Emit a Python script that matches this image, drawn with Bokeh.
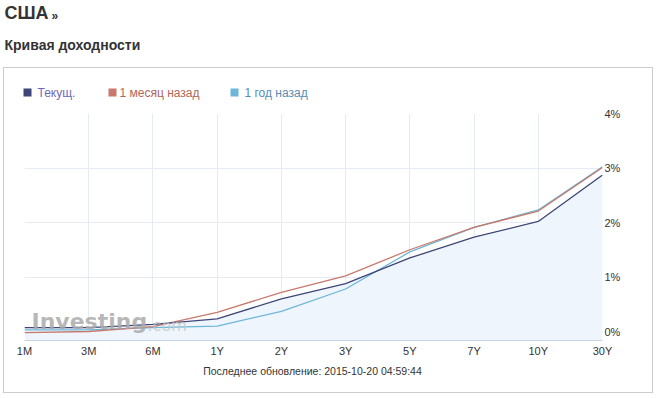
from bokeh.plotting import figure
from bokeh.models import Range1d, FixedTicker, Label, Column
from bokeh.embed import file_html
from bokeh.resources import INLINE

# ---- data ----
tenors = ["1M", "3M", "6M", "1Y", "2Y", "3Y", "5Y", "7Y", "10Y", "30Y"]
current = [0.07, 0.07, 0.13, 0.23, 0.60, 0.88, 1.35, 1.73, 2.02, 2.87]
month_ago = [-0.02, 0.00, 0.09, 0.35, 0.72, 1.02, 1.50, 1.91, 2.21, 3.01]
year_ago = [0.03, 0.03, 0.07, 0.10, 0.37, 0.78, 1.46, 1.91, 2.23, 3.02]
y_ticks = [0, 1, 2, 3, 4]
y_tick_labels = ["0%", "1%", "2%", "3%", "4%"]
series_names = ["Текущ.", "1 месяц назад", "1 год назад"]
series_colors = ["#3d4677", "#c8796b", "#6db5d9"]
legend_text_colors = ["#6f68b8", "#b0665a", "#5a8db2"]
title_text = "США"
subtitle_text = "Кривая доходности"
footer_text = "Последнее обновление: 2015-10-20 04:59:44"

FONT = "Liberation Sans"
PAGE_W = 657
BOX_X = 4          # inner left of bordered box (page)
BOX_W = 648        # inner width of bordered box


def text_fig(w, h):
    f = figure(width=w, height=h, output_backend="svg", toolbar_location=None,
               x_range=Range1d(0, w), y_range=Range1d(h, 0),
               x_axis_type=None, y_axis_type=None, min_border=0)
    f.outline_line_color = None
    f.grid.visible = False
    f.background_fill_color = "white"
    f.border_fill_color = "white"
    return f


# ---- header ----
header = text_fig(PAGE_W, 67)
header.add_layout(Label(x=4, y=12.5, text=title_text, text_font=FONT, text_font_style="bold",
                        text_font_size="18px", text_color="#333333", text_baseline="middle"))
header.add_layout(Label(x=51, y=15, text="»", text_font=FONT, text_font_style="bold",
                        text_font_size="12px", text_color="#333333", text_baseline="middle"))
header.add_layout(Label(x=4, y=44.5, text=subtitle_text, text_font=FONT, text_font_style="bold",
                        text_font_size="14px", text_color="#333333", text_baseline="middle"))

# ---- legend ----
LEG_TOP = 68
MAIN_TOP = 100
leg = text_fig(BOX_W, MAIN_TOP - LEG_TOP)
sq_x = [23, 108, 230]
txt_x = [37, 119, 244]
leg.quad(left=[sx - BOX_X for sx in sq_x], right=[sx - BOX_X + 8 for sx in sq_x],
         top=[88 - LEG_TOP] * 3, bottom=[96 - LEG_TOP] * 3,
         fill_color=series_colors, line_color=None)
for name, tc, tx in zip(series_names, legend_text_colors, txt_x):
    leg.add_layout(Label(x=tx - BOX_X, y=92 - LEG_TOP, text=name, text_font=FONT,
                         text_font_size="12px", text_color=tc, text_baseline="middle"))

# ---- main chart ----
FL, FR, FT, FB = 24, 602, 113, 340
MAIN_BOTTOM = 360
Y0, Y1 = -0.165, 4.0
xs = list(range(len(tenors)))

p = figure(width=BOX_W, height=MAIN_BOTTOM - MAIN_TOP, output_backend="svg",
           toolbar_location=None,
           x_range=Range1d(0, len(tenors) - 1), y_range=Range1d(Y0, Y1),
           y_axis_location="right",
           min_border_left=FL - BOX_X, min_border_right=BOX_W - (FR - BOX_X),
           min_border_top=FT - MAIN_TOP, min_border_bottom=MAIN_BOTTOM - FB)
p.outline_line_color = None
p.background_fill_color = "white"
p.border_fill_color = "white"


def dx(page_x):
    return (page_x - FL) / ((FR - FL) / (len(tenors) - 1))


def dy(page_y):
    return Y1 - (page_y - FT) * (Y1 - Y0) / (FB - FT)


for ax in (p.xaxis, p.yaxis):
    ax.major_tick_line_color = None
    ax.minor_tick_line_color = None
    ax.major_tick_out = 0
    ax.major_tick_in = 0
    ax.minor_tick_out = 0
    ax.minor_tick_in = 0
    ax.major_label_text_font = FONT
    ax.major_label_text_font_size = "11px"
    ax.major_label_text_color = "#333333"

p.xaxis.ticker = FixedTicker(ticks=xs)
p.xaxis.major_label_overrides = {i: t for i, t in enumerate(tenors)}
p.xaxis.axis_line_color = "#c6d4e4"
p.xaxis.major_label_standoff = 4

p.yaxis.ticker = FixedTicker(ticks=y_ticks)
p.yaxis.major_label_overrides = {t: l for t, l in zip(y_ticks, y_tick_labels)}
p.yaxis.axis_line_color = None
p.yaxis.major_label_standoff = 2

p.xgrid.ticker = FixedTicker(ticks=xs)
p.xgrid.grid_line_color = "#e4ebf5"
p.ygrid.ticker = FixedTicker(ticks=y_ticks)
p.ygrid.grid_line_color = "#e4ebf5"

p.varea(x=xs, y1=[Y0] * len(xs), y2=current, fill_color="#eef5fd", fill_alpha=1)
p.line(xs, year_ago, line_color=series_colors[2], line_width=1.3)
p.line(xs, month_ago, line_color=series_colors[1], line_width=1.3)
p.line(xs, current, line_color=series_colors[0], line_width=1.3)

# watermark
p.add_layout(Label(x=dx(31), y=dy(321), text="Investing", text_font="DejaVu Sans",
                   text_font_style="bold", text_font_size="22px", text_color="#aaaaaa",
                   text_alpha=0.85, text_baseline="middle"))
p.add_layout(Label(x=dx(147), y=dy(325), text=".com", text_font="DejaVu Sans",
                   text_font_size="16px", text_color="#c8c8c8", text_alpha=0.85,
                   text_baseline="middle"))

# ---- footer ----
footer = text_fig(BOX_W, 392 - MAIN_BOTTOM)
footer.add_layout(Label(x=312 - BOX_X, y=370 - MAIN_BOTTOM, text=footer_text, text_font=FONT,
                        text_font_size="10.5px", text_color="#333333",
                        text_align="center", text_baseline="middle"))

box = Column(children=[Column(children=[leg]), Column(children=[p]), Column(children=[footer])],
             spacing=0, styles={"border": "1px solid #cccccc", "margin-left": "3px"})
layout = Column(children=[header, box], spacing=0)

open("out.html", "w").write(file_html(layout, INLINE))
